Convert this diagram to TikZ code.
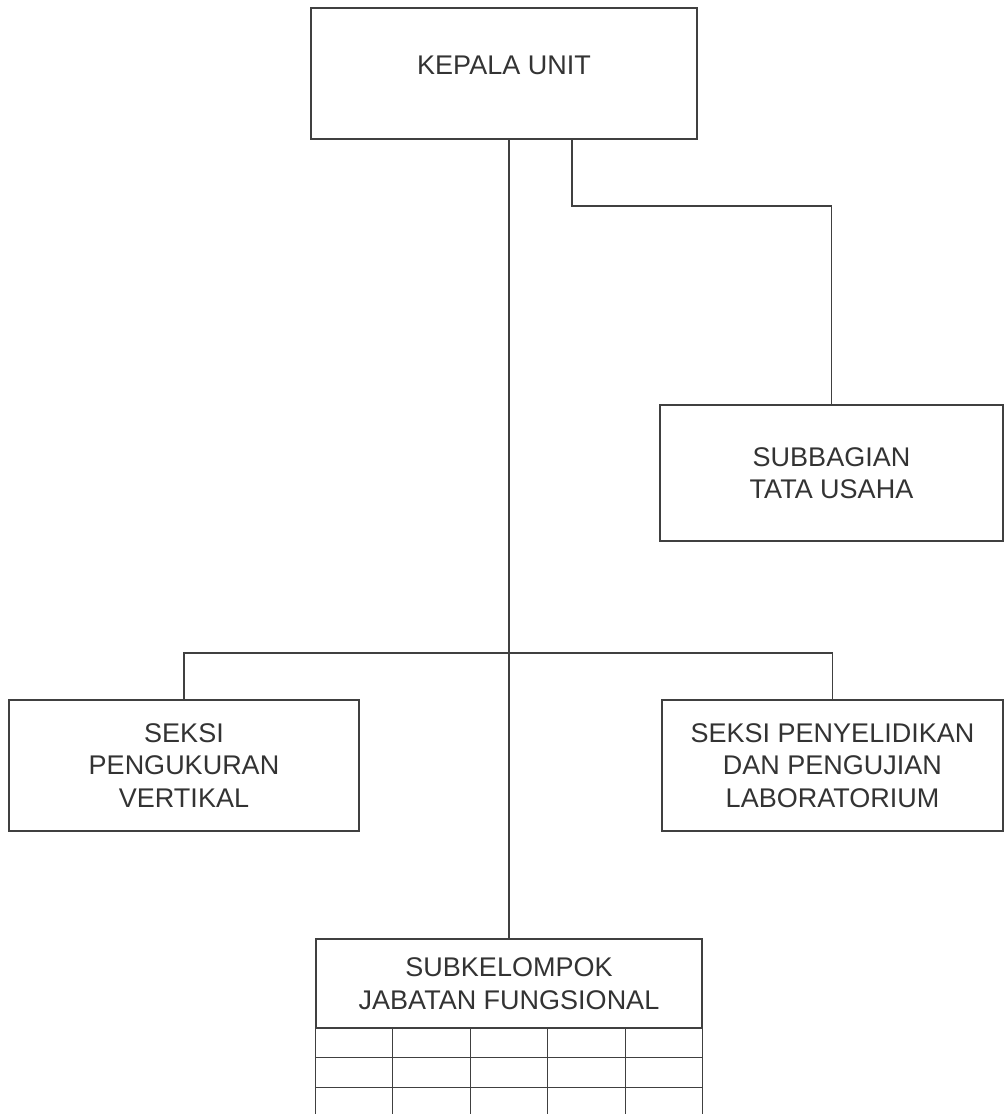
\documentclass[tikz,border=0pt]{standalone}
\usepackage{fontspec}
\setmainfont{Liberation Sans}
\usetikzlibrary{positioning}
\usetikzlibrary{calc}

\begin{document}
\begin{tikzpicture}[x=0.5pt,y=-0.5pt]
\tikzset{basic/.style={draw=black!75,line width=0.6pt,text=black!80,font=\fontsize{13.5}{16.25}\selectfont,align=center,inner sep=0pt}}
\tikzset{head/.style={basic,minimum width=193pt,minimum height=65.5pt}}
\tikzset{section/.style={basic,minimum height=65.5pt}}
\tikzset{link/.style={draw=black!75,line width=0.6pt}}
\useasboundingbox (0,0) rectangle (1005,1114);
        \node[head] (kepala) at (504,73.5) {\raisebox{8pt}{KEPALA UNIT}};
        \node[section,minimum width=171.5pt,minimum height=68pt] (tu) at (831.5,473) {SUBBAGIAN\\TATA USAHA};
        \node[section,minimum width=175pt] (vertikal) at (184,765.5) {SEKSI\\PENGUKURAN\\VERTIKAL};
        \node[section,minimum width=170.5pt] (lab) at (832.5,765.5) {SEKSI PENYELIDIKAN\\DAN PENGUJIAN\\LABORATORIUM};
        \node[head,minimum height=44.5pt] (fungsi) at (509,983.5) {SUBKELOMPOK\\JABATAN FUNGSIONAL};
        \coordinate (tuknee) at (572,206);
        \coordinate (bar) at (509,653);
            \path[link] (kepala.south -| fungsi.north) -- (fungsi.north);
            \path[link] (kepala.south -| tuknee) -- (tuknee) -| (tu.north);
            \path[link] (vertikal.north) |- (bar) -| (lab.north);
        % table below the functional group
            \path[link] (fungsi.south west) -- ++(0,86);
            \path[link] (fungsi.south east) -- ++(0,86);
        \foreach \i in {1,...,4}
            \path[link] ($(fungsi.south west)!\i/5!(fungsi.south east)$) -- ++(0,86);
        \foreach \j in {29,59}
            \path[link] ($(fungsi.south west)+(0,\j)$) -- ($(fungsi.south east)+(0,\j)$);
    \end{tikzpicture}
\end{document}
